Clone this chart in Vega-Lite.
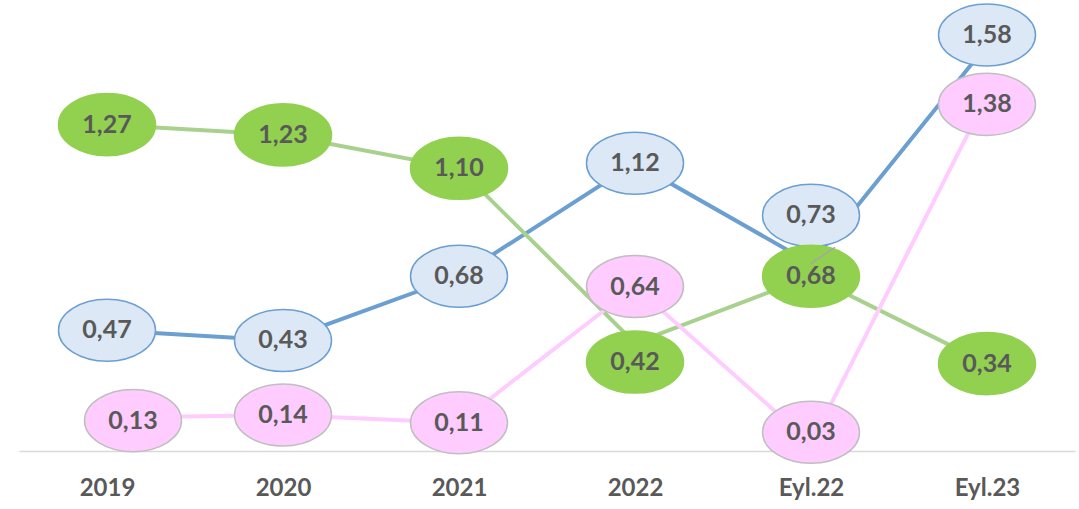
{
  "$schema": "https://vega.github.io/schema/vega-lite/v6.json",
  "width": 1056,
  "height": 451,
  "padding": {"left": 19, "top": 0, "right": 4, "bottom": 0},
  "background": "white",
  "config": {
    "view": {"stroke": null},
    "locale": {"number": {"decimal": ",", "thousands": ".", "grouping": [3], "currency": ["", " ₺"]}}
  },
  "data": {
    "values": [
      {"series": "Blue", "period": "2019", "value": 0.47},
      {"series": "Blue", "period": "2020", "value": 0.43},
      {"series": "Blue", "period": "2021", "value": 0.68},
      {"series": "Blue", "period": "2022", "value": 1.12},
      {"series": "Blue", "period": "Eyl.22", "value": 0.73},
      {"series": "Blue", "period": "Eyl.23", "value": 1.58},
      {"series": "Green", "period": "2019", "value": 1.27},
      {"series": "Green", "period": "2020", "value": 1.23},
      {"series": "Green", "period": "2021", "value": 1.10},
      {"series": "Green", "period": "2022", "value": 0.42},
      {"series": "Green", "period": "Eyl.22", "value": 0.68},
      {"series": "Green", "period": "Eyl.23", "value": 0.34},
      {"series": "Pink", "period": "2019", "value": 0.13},
      {"series": "Pink", "period": "2020", "value": 0.14},
      {"series": "Pink", "period": "2021", "value": 0.11},
      {"series": "Pink", "period": "2022", "value": 0.64},
      {"series": "Pink", "period": "Eyl.22", "value": 0.03},
      {"series": "Pink", "period": "Eyl.23", "value": 1.38}
    ]
  },
  "encoding": {
    "x": {
      "field": "period", "type": "ordinal", "sort": null,
      "scale": {"type": "point", "padding": 0.5},
      "axis": {
        "title": null, "labelAngle": 0, "ticks": false, "grid": false,
        "domainColor": "#d9d9d9", "domainWidth": 1.5,
        "labelFont": "Lato", "labelFontWeight": "bold", "labelFontSize": 24,
        "labelColor": "#595959", "labelPadding": 25
      }
    },
    "y": {
      "field": "value", "type": "quantitative",
      "scale": {"domain": [0, 1.755], "nice": false, "zero": false},
      "axis": null
    }
  },
  "layer": [
    {
      "mark": {"type": "line"},
      "encoding": {
        "color": {"field": "series", "type": "nominal", "scale": {"domain": ["Green", "Pink", "Blue"], "range": ["#a9d18e", "#ffccff", "#6b9fd2"]}, "legend": null},
        "strokeWidth": {"field": "series", "type": "nominal", "scale": {"domain": ["Green", "Pink", "Blue"], "range": [4, 4, 5.5]}, "legend": null}
      }
    },
    {
      "mark": {
        "type": "point", "filled": true, "opacity": 1,
        "shape": "M-1,0 A1,0.64 0 1,1 1,0 A1,0.64 0 1,1 -1,0 Z",
        "size": 9409, "strokeWidth": 1.5,
        "xOffset": {"expr": "datum.series==='Pink' && datum.period==='2019' ? 26 : 0"},
        "yOffset": {"expr": "datum.series==='Blue' && datum.period==='Eyl.22' ? -48 : datum.series==='Green' && datum.period==='2022' ? 19 : datum.series==='Pink' && datum.period==='Eyl.22' ? -11 : datum.series==='Blue' && datum.period==='Eyl.23' ? -10 : datum.series==='Pink' && datum.period==='Eyl.23' ? 8 : datum.series==='Pink' && datum.period==='2019' ? 3 : 0"}
      },
      "encoding": {
        "fill": {"field": "series", "type": "nominal", "scale": {"domain": ["Green", "Pink", "Blue"], "range": ["#92d050", "#ffccff", "#dce8f5"]}, "legend": null},
        "stroke": {"field": "series", "type": "nominal", "scale": {"domain": ["Green", "Pink", "Blue"], "range": ["#92d050", "#bfbfbf", "#6b9fd2"]}, "legend": null}
      }
    },
    {
      "transform": [{"filter": "datum.series==='Blue' && datum.period==='Eyl.22'"}],
      "mark": {"type": "rule", "color": "#a6a6a6", "strokeWidth": 1.5, "x2Offset": 24, "y2Offset": -16},
      "encoding": {
        "x2": {"field": "period"},
        "y2": {"field": "value"}
      }
    },
    {
      "mark": {
        "type": "text", "font": "Lato", "fontWeight": "bold", "fontSize": 25,
        "color": "#595959", "baseline": "middle", "align": "center",
        "xOffset": {"expr": "datum.series==='Pink' && datum.period==='2019' ? 26 : 0"},
        "yOffset": {"expr": "datum.series==='Blue' && datum.period==='Eyl.22' ? -48 : datum.series==='Green' && datum.period==='2022' ? 19 : datum.series==='Pink' && datum.period==='Eyl.22' ? -11 : datum.series==='Blue' && datum.period==='Eyl.23' ? -10 : datum.series==='Pink' && datum.period==='Eyl.23' ? 8 : datum.series==='Pink' && datum.period==='2019' ? 3 : 0"}
      },
      "encoding": {
        "text": {"field": "value", "type": "quantitative", "format": ".2f"}
      }
    }
  ]
}
